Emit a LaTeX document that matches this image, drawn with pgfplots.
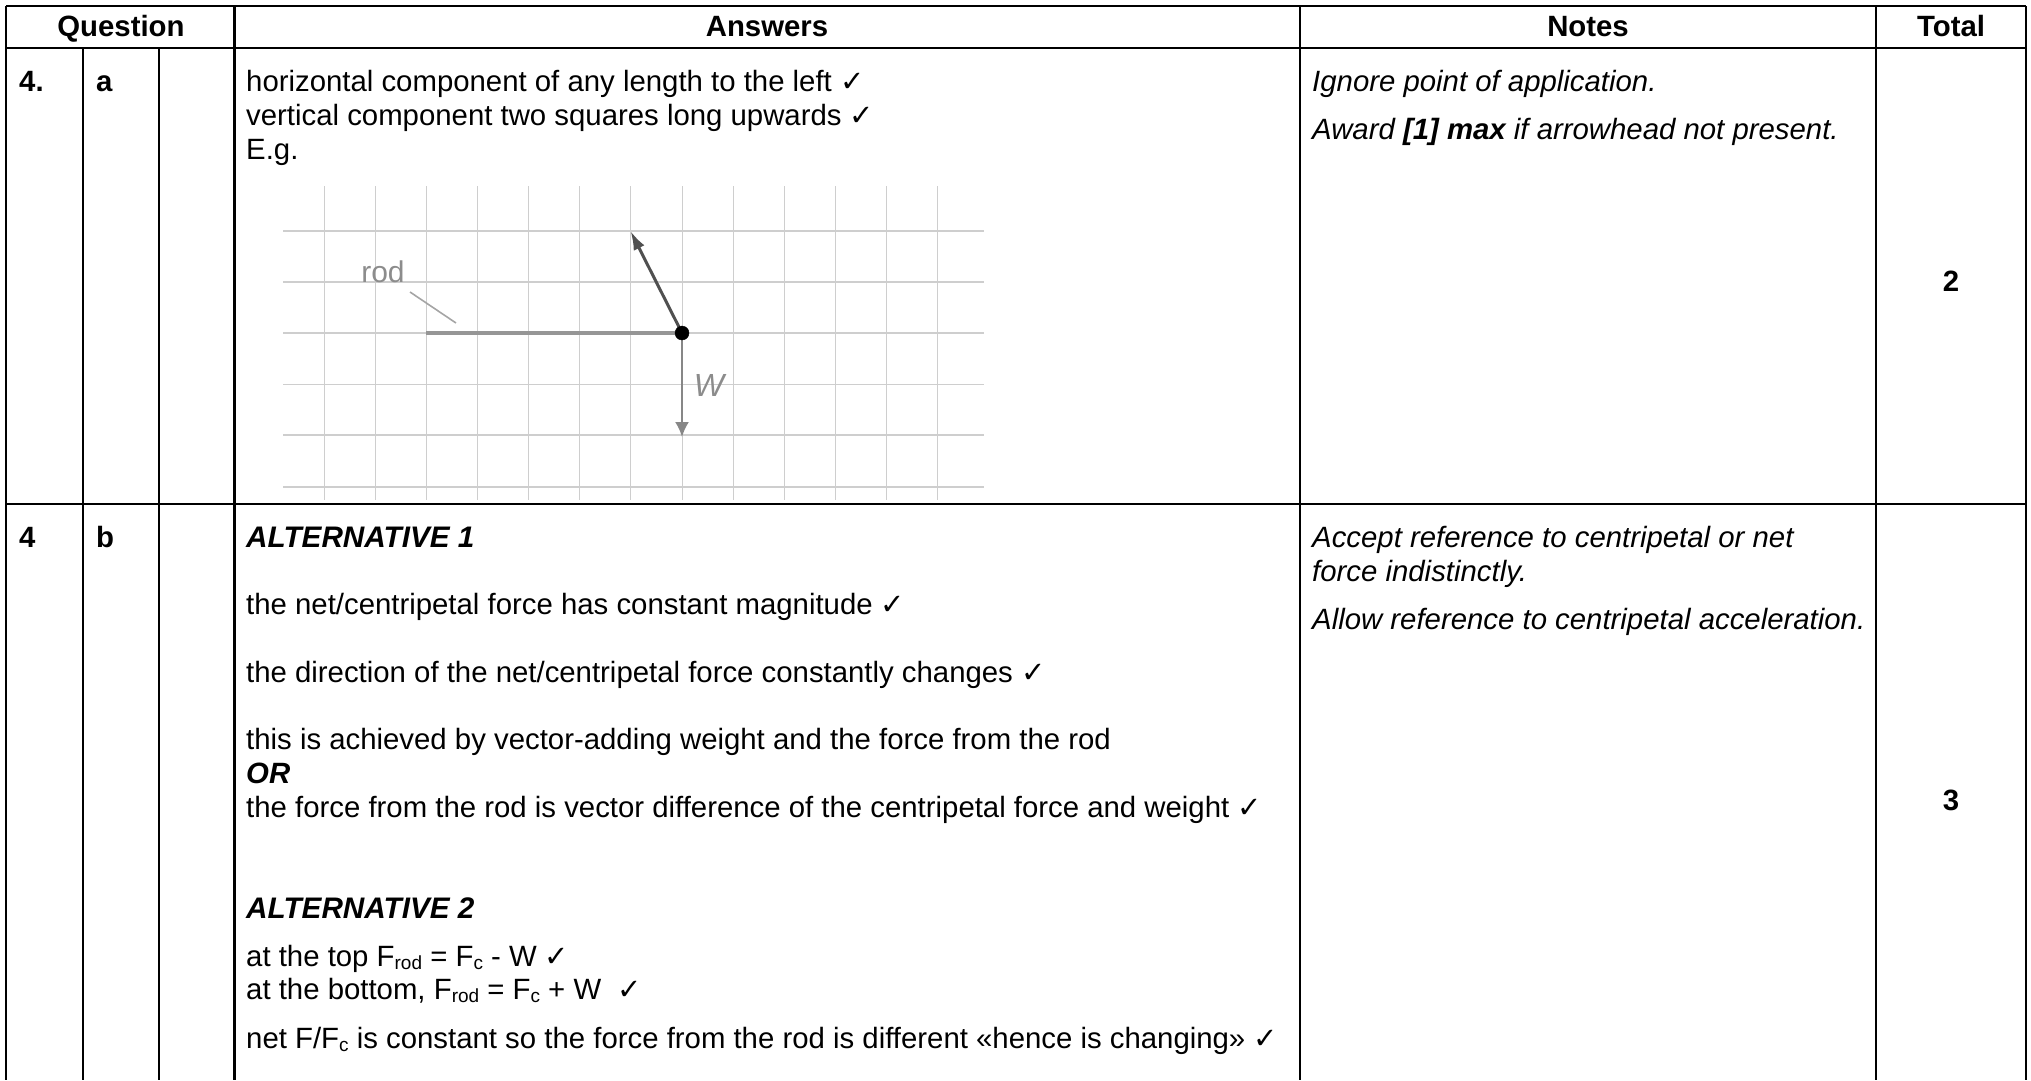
\documentclass[border=0pt]{standalone}
\usepackage{fontspec}
\setmainfont{Liberation Sans}
\newfontfamily\sym{DejaVu Sans}
\usepackage{pgfplots}
\pgfplotsset{compat=1.18}
\usetikzlibrary{arrows.meta}
\definecolor{gridc}{RGB}{206,206,206}
\definecolor{rodc}{RGB}{150,150,150}
\definecolor{arrc}{RGB}{80,80,80}
\definecolor{labc}{RGB}{140,140,140}
\newcommand{\tick}{~{\sym\fontsize{29}{29}\selectfont ✓}}
\newcommand{\sub}[1]{\raisebox{-3pt}{\fontsize{19}{19}\selectfont #1}}
\newcommand{\T}[3]{\node[anchor=base west,inner sep=0pt] at (axis cs:#1,#2) {#3};}
\newcommand{\C}[3]{\node[anchor=base,inner sep=0pt] at (axis cs:#1,#2) {\bfseries #3};}
\begin{document}
\begin{tikzpicture}[every node/.style={font=\fontsize{29.35}{34}\selectfont}]
\useasboundingbox (0,0) rectangle (2031pt,1080pt);
\begin{axis}[
  at={(0,0)}, anchor=south west,
  scale only axis, width=2031pt, height=1080pt,
  xmin=0, xmax=2031, ymin=0, ymax=1080, y dir=reverse,
  hide axis, clip=false, unbounded coords=jump,
]
% diagram grid
\addplot[gridc, line width=0.9pt, no markers] coordinates {
  (324,186)(324,500)(nan,nan)(375,186)(375,500)(nan,nan)(426,186)(426,500)(nan,nan)
  (477,186)(477,500)(nan,nan)(528,186)(528,500)(nan,nan)(579,186)(579,500)(nan,nan)
  (630.5,186)(630.5,500)(nan,nan)(682,186)(682,500)(nan,nan)(733,186)(733,500)(nan,nan)
  (784,186)(784,500)(nan,nan)(835,186)(835,500)(nan,nan)(886,186)(886,500)(nan,nan)
  (937,186)(937,500)};
\addplot[gridc, line width=1.3pt, no markers] coordinates {
  (283,231)(984,231)(nan,nan)(283,282)(984,282)(nan,nan)(283,333)(984,333)(nan,nan)
  (283,384.5)(984,384.5)(nan,nan)(283,435)(984,435)(nan,nan)(283,487)(984,487)};
% rod, leader and force arrows
\addplot[rodc, line width=3.6pt, no markers] coordinates {(426,333)(682,333)};
\addplot[gridc!80!black, line width=1.6pt, no markers] coordinates {(410,292)(456,323)};
\addplot[arrc, line width=3pt, no markers, -{Latex[length=19pt,width=12pt]}] coordinates {(682,333)(630.5,231)};
\addplot[rodc!90!black, line width=2.2pt, no markers, -{Latex[length=15pt,width=14pt]}] coordinates {(682,333)(682,437)};
\addplot[only marks, mark=*, black, mark size=7pt] coordinates {(682,333)};
\node[anchor=base,inner sep=0pt,text=labc,font=\fontsize{30}{34}\selectfont] at (axis cs:383,282) {rod};
\node[anchor=base,inner sep=0pt,text=labc,font=\fontsize{32}{34}\selectfont\itshape] at (axis cs:709,396) {W};
% table rules
\addplot[black, line width=2.2pt, no markers] coordinates {
  (6,6)(2026,6)(nan,nan)(6,48)(2026,48)(nan,nan)(6,504)(2026,504)(nan,nan)
  (6,6)(6,1080)(nan,nan)(83,48)(83,1080)(nan,nan)(159,48)(159,1080)(nan,nan)
  (234.5,6)(234.5,1080)(nan,nan)(1300,6)(1300,1080)(nan,nan)(1876,6)(1876,1080)(nan,nan)
  (2026,6)(2026,1080)};
% header
\C{121}{36.5}{Question}
\C{767}{36.5}{Answers}
\C{1588}{36.5}{Notes}
\C{1951}{36.5}{Total}
\T{19}{91}{\bfseries 4.}
\T{96}{91}{\bfseries a}
\T{19}{547}{\bfseries 4}
\T{96}{547}{\bfseries b}
% answers
\T{246}{91}{horizontal component of any length to the left\tick}
\T{246}{125}{vertical component two squares long upwards\tick}
\T{246}{159}{E.g.}
\T{246}{547}{\fontsize{29.7}{34}\selectfont\bfseries\itshape ALTERNATIVE 1}
\T{246}{614}{the net/centripetal force has constant magnitude\tick}
\T{246}{682}{the direction of the net/centripetal force constantly changes\tick}
\T{246}{749}{this is achieved by vector-adding weight and the force from the rod}
\T{246}{783}{\bfseries\itshape OR}
\T{246}{817}{the force from the rod is vector difference of the centripetal force and weight\tick}
\T{246}{918}{\fontsize{29.7}{34}\selectfont\bfseries\itshape ALTERNATIVE 2}
\T{246}{966}{at the top F\sub{rod} = F\sub{c} - W\tick}
\T{246}{999}{at the bottom, F\sub{rod} = F\sub{c} + W \tick}
\T{246}{1048}{net F/F\sub{c} is constant so the force from the rod is different «hence is changing»\tick}
% notes
\T{1312}{91}{\itshape Ignore point of application.}
\T{1312}{139}{\itshape Award {\bfseries [1] max} if arrowhead not present.}
\T{1312}{547}{\itshape Accept reference to centripetal or net}
\T{1312}{581}{\itshape force indistinctly.}
\T{1312}{629}{\itshape Allow reference to centripetal acceleration.}
% totals
\C{1951}{291}{2}
\C{1951}{810}{3}
\end{axis}
\end{tikzpicture}
\end{document}
